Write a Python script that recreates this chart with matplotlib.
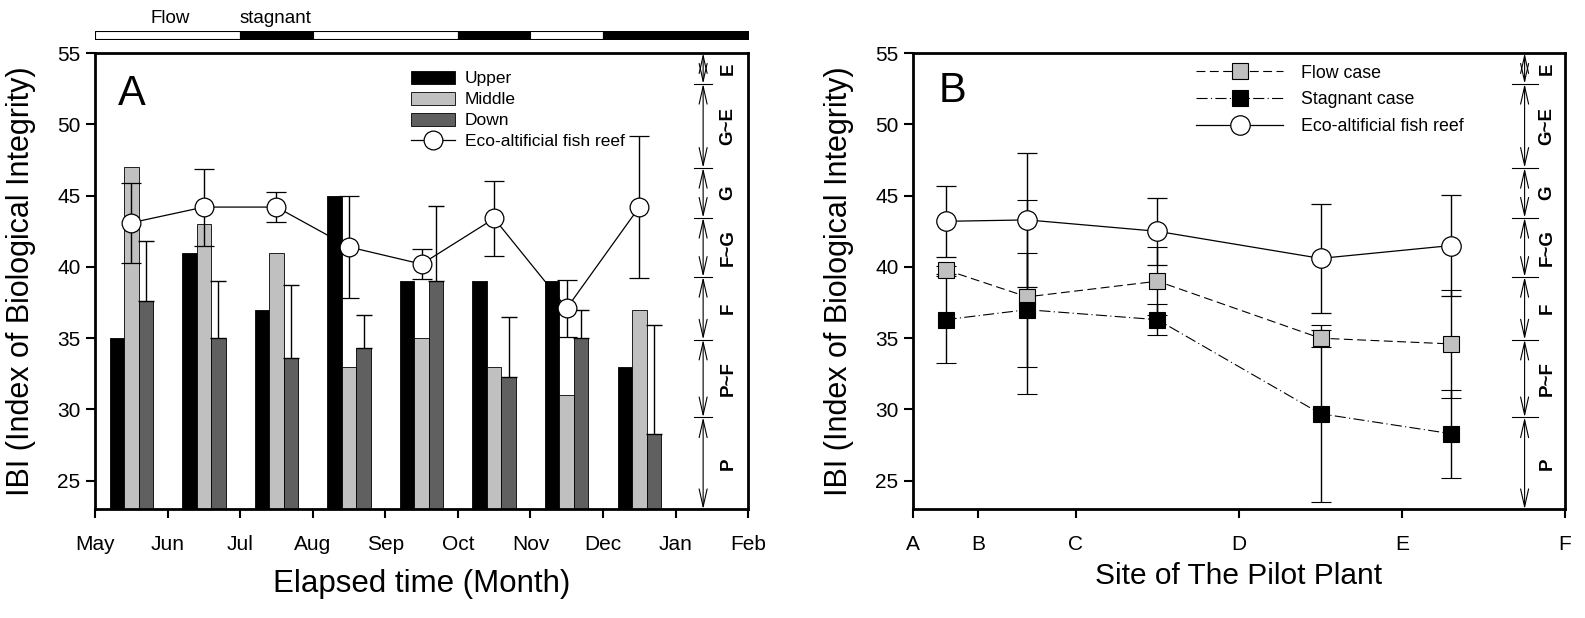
import matplotlib
matplotlib.use('Agg')
import matplotlib.pyplot as plt
from matplotlib.lines import Line2D
from matplotlib.patches import Patch
import numpy as np

plt.rcParams['font.family'] = ['Liberation Sans', 'DejaVu Sans']

# panel A data
months = ['May', 'Jun', 'Jul', 'Aug', 'Sep', 'Oct', 'Nov', 'Dec', 'Jan', 'Feb']
upper = [35, 41, 37, 45, 39, 39, 39, 33]
middle = [47, 43, 41, 33, 35, 33, 31, 37]
down = [37.6, 35, 33.6, 34.3, 39, 32.3, 35, 28.3]
down_err = [4.2, 4.0, 5.1, 2.3, 5.3, 4.2, 2.0, 7.6]
reef_a = [43.1, 44.2, 44.2, 41.4, 40.2, 43.4, 37.1, 44.2]
reef_a_err = [2.8, 2.7, 1.05, 3.6, 1.05, 2.6, 2.0, 5.0]

# flow / stagnant periods (month index)
phase_start = [0, 2, 3, 5, 6, 7]
phase_end = [2, 3, 5, 6, 7, 9]
phase_kind = ['flow', 'stagnant', 'flow', 'stagnant', 'flow', 'stagnant']

# panel B data
sites = ['A', 'B', 'C', 'D', 'E', 'F']
site_pos = [0, 10, 25, 50, 75, 100]
sample_pos = [5, 17.5, 37.5, 62.5, 82.5]
flow = [39.8, 37.9, 39.0, 35.0, 34.6]
flow_err = [0.3, 6.8, 2.4, 0.6, 3.8]
stag = [36.3, 37.0, 36.3, 29.7, 28.3]
stag_err = [3.05, 4.0, 1.1, 6.2, 3.1]
reef_b = [43.2, 43.3, 42.5, 40.6, 41.5]
reef_b_err = [2.5, 4.7, 2.35, 3.85, 3.55]

# IBI grade bands
grade_edges = [23, 29.45, 34.9, 39.3, 43.45, 46.95, 52.85, 55]
grade_names = ['P', 'P~F', 'F', 'F~G', 'G', 'G~E', 'E']

YLIM = (23, 55)
FLOW_LS = (0, (8, 4))
STAG_LS = (0, (10, 3, 1, 3))


def draw_grades(ax, x, xtext, half):
    for lo, hi, name in zip(grade_edges[:-1], grade_edges[1:], grade_names):
        ax.annotate('', xy=(x, hi), xytext=(x, lo),
                    arrowprops=dict(arrowstyle='<->,head_length=0.8,head_width=0.18',
                                    lw=0.8, color='black', shrinkA=0, shrinkB=0,
                                    mutation_scale=16))
        ax.text(xtext, (lo + hi) / 2, name, rotation=90, ha='center', va='center',
                fontsize=13.5, fontweight='bold')
    for b in grade_edges[1:-1]:
        ax.plot([x - half, x + half], [b, b], color='black', lw=0.8)


def style_axes(ax):
    for s in ax.spines.values():
        s.set_linewidth(2)
    ax.tick_params(direction='out', length=6.5, width=1.5, labelsize=15)
    ax.tick_params(axis='x', pad=12)
    ax.tick_params(axis='y', pad=4)
    ax.set_ylim(*YLIM)
    ax.set_yticks([25, 30, 35, 40, 45, 50, 55])
    ax.set_ylabel('IBI (Index of Biological Integrity)', fontsize=22, va='center')
    ax.yaxis.set_label_coords(-0.113, 0.5)


fig = plt.figure(figsize=(15.85, 6.18), dpi=100)

# ---- panel A ----
axA = fig.add_axes([0.060, 0.176, 0.412, 0.738])
x = np.arange(len(upper)) + 0.5
w = 0.2
axA.bar(x - w, upper, w, color='black', edgecolor='black', lw=0.6)
axA.bar(x, middle, w, color='#c0c0c0', edgecolor='black', lw=0.6)
axA.bar(x + w, down, w, color='#606060', edgecolor='black', lw=0.6)
axA.errorbar(x + w, down, yerr=[np.zeros(len(down)), down_err], fmt='none',
             ecolor='black', elinewidth=1, capsize=6, capthick=1)
axA.errorbar(x, reef_a, yerr=reef_a_err, fmt='-o', color='black', lw=0.9,
             ms=13.5, mfc='white', mec='black', mew=0.9, elinewidth=1,
             capsize=7, capthick=1)
draw_grades(axA, 8.38, 8.72, 0.12)
axA.set_xlim(0, 9)
axA.set_xticks(range(10))
axA.set_xticklabels(months)
style_axes(axA)
axA.set_xlabel('Elapsed time (Month)', fontsize=22.5, va='center')
axA.xaxis.set_label_coords(0.5, -0.163)
axA.text(0.056, 0.91, 'A', transform=axA.transAxes, fontsize=30, ha='center', va='center')
handles_a = [Patch(facecolor='black', edgecolor='black', lw=0.6),
             Patch(facecolor='#c0c0c0', edgecolor='black', lw=0.6),
             Patch(facecolor='#606060', edgecolor='black', lw=0.6),
             Line2D([], [], color='black', lw=0.9, marker='o', ms=13.5,
                    mfc='white', mec='black', mew=0.9)]
axA.legend(handles_a, ['Upper', 'Middle', 'Down', 'Eco-altificial fish reef'],
           loc='upper left', bbox_to_anchor=(0.46, 0.995), frameon=False, fontsize=12.5,
           handlelength=2.5, handleheight=0.75, labelspacing=0.32, handletextpad=0.6)

# flow / stagnant bar on top
axT = fig.add_axes([0.060, 0.9374, 0.412, 0.0129])
for s, e, k in zip(phase_start, phase_end, phase_kind):
    axT.broken_barh([(s, e - s)], (0, 1), facecolor='white' if k == 'flow' else 'black',
                    edgecolor='black', lw=0.8)
axT.set_xlim(0, 9)
axT.set_ylim(0, 1)
axT.axis('off')
axT.text(1.03, 2.0, 'Flow', ha='center', va='baseline', fontsize=13.5)
axT.text(2.48, 2.0, 'stagnant', ha='center', va='baseline', fontsize=13.5)

# ---- panel B ----
axB = fig.add_axes([0.576, 0.176, 0.4114, 0.738])
axB.errorbar(sample_pos, flow, yerr=flow_err, fmt='s', ls=FLOW_LS, color='black',
             lw=0.8, ms=12, mfc='#c0c0c0', mec='black', mew=0.8, elinewidth=1,
             capsize=7, capthick=1)
axB.errorbar(sample_pos, stag, yerr=stag_err, fmt='s', ls=STAG_LS, color='black',
             lw=0.8, ms=12, mfc='black', mec='black', mew=0.8, elinewidth=1,
             capsize=7, capthick=1)
axB.errorbar(sample_pos, reef_b, yerr=reef_b_err, fmt='-o', color='black', lw=0.9,
             ms=14, mfc='white', mec='black', mew=0.9, elinewidth=1,
             capsize=7, capthick=1)
draw_grades(axB, 93.8, 97.2, 2.0)
axB.set_xlim(0, 100)
axB.set_xticks(site_pos)
axB.set_xticklabels(sites)
style_axes(axB)
axB.set_xlabel('Site of The Pilot Plant', fontsize=21.5, va='center')
axB.xaxis.set_label_coords(0.5, -0.147)
axB.text(0.06, 0.918, 'B', transform=axB.transAxes, fontsize=30, ha='center', va='center')
handles_b = [Line2D([], [], color='black', lw=0.8, ls=FLOW_LS, marker='s', ms=12,
                    mfc='#c0c0c0', mec='black', mew=0.8),
             Line2D([], [], color='black', lw=0.8, ls=STAG_LS, marker='s', ms=12,
                    mfc='black', mec='black', mew=0.8),
             Line2D([], [], color='black', lw=0.9, marker='o', ms=14,
                    mfc='white', mec='black', mew=0.9)]
axB.legend(handles_b, ['Flow case', 'Stagnant case', 'Eco-altificial fish reef'],
           loc='upper left', bbox_to_anchor=(0.41, 1.01), frameon=False, fontsize=12.8,
           handlelength=4.9, labelspacing=0.55, handletextpad=1.0)

fig.savefig('out.png', dpi=100)
